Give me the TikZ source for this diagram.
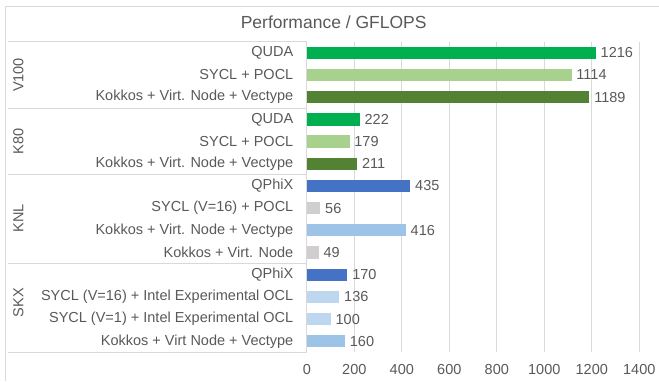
\documentclass[tikz,border=0pt]{standalone}
\usepackage{fontspec}
\setmainfont{Liberation Sans}
\definecolor{txt}{HTML}{595959}
\definecolor{gridc}{HTML}{D9D9D9}
\definecolor{quda}{HTML}{00B050}
\definecolor{pocl}{HTML}{A9D18E}
\definecolor{kokg}{HTML}{548235}
\definecolor{qphix}{HTML}{4472C4}
\definecolor{grayb}{HTML}{D0CECE}
\definecolor{kokb}{HTML}{9DC3E6}
\definecolor{syclb}{HTML}{BDD7EE}
\tikzset{
  gridline/.style={draw=gridc, line width=0.8pt},
  barbox/.style={draw=none, inner sep=0pt, minimum height=12.3pt, anchor=west},
  vallab/.style={anchor=west, text=txt, inner sep=0pt},
  catlab/.style={anchor=east, text=txt, inner sep=0pt},
  grplab/.style={rotate=90, text=txt, inner sep=0pt},
  ticklab/.style={text=txt, inner sep=0pt}
}
\begin{document}
\begin{tikzpicture}[x=1pt, y=-1pt, font=\fontsize{14.5}{16}\selectfont]
\useasboundingbox (0,0) rectangle (659,381);
% outer frame
\draw[gridline] (659,6) -- (5,6) -- (5,381);
% title
\node[text=txt, font=\fontsize{17.5}{20}\selectfont, inner sep=0pt] (title) at (333.7,22) {Performance / GFLOPS};
% gridlines
\foreach \k in {1,...,7} {
  \draw[gridline] (306.8+47.5*\k,41.7) -- (306.8+47.5*\k,352.4);
}
\foreach \k in {0,...,7} {
  \pgfmathtruncatemacro\tv{200*\k}
  \node[ticklab] (t\k) at (306.8+47.5*\k,370) {\tv};
}
% separators
\foreach \g in {0,3,6,10,14} {
  \draw[gridline] (8,41.7+22.19*\g) -- (306.8,41.7+22.19*\g);
}
\draw[gridline] (306.8,41.7) -- (306.8,352.4);
% group labels
\node[grplab] (gV) at (18.5,75) {V100};
\node[grplab] (gK) at (18.5,141.3) {K80};
\node[grplab] (gN) at (18.5,218.5) {KNL};
\node[grplab] (gS) at (18.5,302.5) {SKX};
% bars
\foreach \i/\v/\c/\lab in {
  0/1216/quda/{QUDA\ },
  1/1114/pocl/{SYCL + POCL},
  2/1189/kokg/{Kokkos + Virt. Node + Vectype},
  3/222/quda/{QUDA},
  4/179/pocl/{SYCL + POCL},
  5/211/kokg/{Kokkos + Virt. Node + Vectype},
  6/435/qphix/{QPhiX},
  7/56/grayb/{SYCL (V=16) + POCL\ },
  8/416/kokb/{Kokkos + Virt. Node + Vectype},
  9/49/grayb/{Kokkos + Virt. Node},
  10/170/qphix/{QPhiX},
  11/136/syclb/{SYCL (V=16) + Intel Experimental OCL},
  12/100/syclb/{SYCL (V=1) + Intel Experimental OCL},
  13/160/kokb/{Kokkos + Virt Node + Vectype}} {
  \pgfmathsetmacro\yc{41.7+22.19*(\i+0.5)}
  \pgfmathsetmacro\w{\v*0.2375}
  \node[barbox, fill=\c, minimum width=\w pt] (b\i) at (306.8,\yc) {};
  \node[vallab] (v\i) at ([xshift=4.5pt]b\i.east) {\v};
  \node[catlab] (c\i) at (293.5,\yc) {\lab};
}
\end{tikzpicture}
\end{document}
